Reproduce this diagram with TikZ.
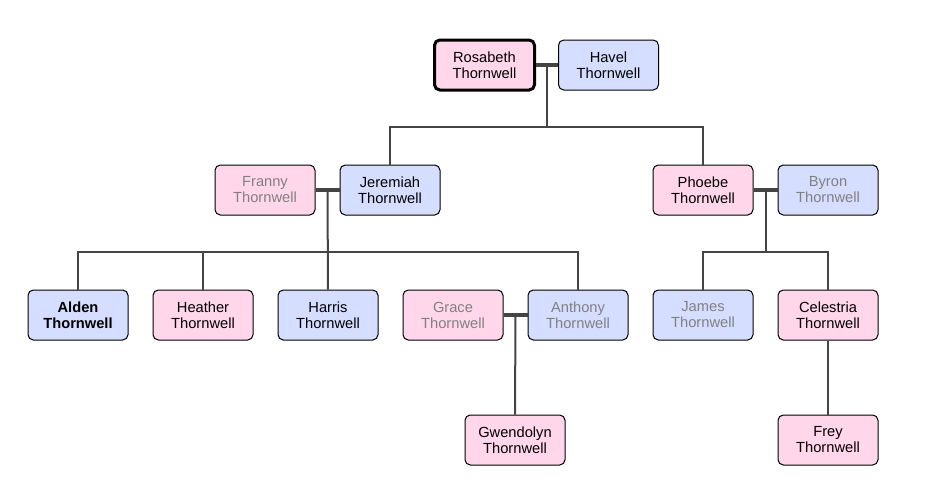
\documentclass[tikz,border=0pt]{standalone}
\usepackage{fontspec}
\setmainfont{Liberation Sans}
\definecolor{femalefill}{RGB}{255,214,234}
\definecolor{malefill}{RGB}{214,222,255}
\definecolor{linkgray}{RGB}{68,68,68}
\definecolor{inlawtext}{RGB}{128,128,128}
\tikzset{
  person/.style={draw=black,line width=0.75pt,rounded corners=4pt,minimum width=75pt,minimum height=37.5pt,inner sep=0pt,align=center,font=\fontsize{11}{12}\selectfont},
  female/.style={person,fill=femalefill},
  male/.style={person,fill=malefill},
  inlaw/.style={text=inlawtext},
  root/.style={line width=2.25pt},
  link/.style={draw=linkgray,line width=1.5pt},
  couple/.style={draw=linkgray,line width=3pt}
}
\begin{document}
\begin{tikzpicture}[x=0.75pt,y=-0.75pt]
        \useasboundingbox (0,0) rectangle (951,490);
        %prima generazione
        \node[female,root] (rosabeth) at (484.5,65) {Rosabeth\\Thornwell};
        \node[male] (havel) at (608.5,65) {Havel\\Thornwell};
        %seconda generazione
        \node[female,inlaw] (franny) at (265,190) {Franny\\Thornwell};
        \node[male] (jeremiah) at (390,190) {Jeremiah\\Thornwell};
        \node[female] (phoebe) at (703,190) {Phoebe\\Thornwell};
        \node[male,inlaw] (byron) at (828,190) {Byron\\Thornwell};
        %terza generazione
        \node[male,font=\fontsize{11}{12}\selectfont\bfseries] (alden) at (78,315) {Alden\\Thornwell};
        \node[female] (heather) at (203,315) {Heather\\Thornwell};
        \node[male] (harris) at (328,315) {Harris\\Thornwell};
        \node[female,inlaw] (grace) at (453,315) {Grace\\Thornwell};
        \node[male,inlaw] (anthony) at (578,315) {Anthony\\Thornwell};
        \node[male,inlaw] (james) at (703,315) {James\\Thornwell};
        \node[female] (celestria) at (828,315) {Celestria\\Thornwell};
        %quarta generazione
        \node[female] (gwendolyn) at (515,440) {Gwendolyn\\Thornwell};
        \node[female] (frey) at (828,440) {Frey\\Thornwell};
        %livelli delle barre
        \coordinate (bus1) at (0,127);
        \coordinate (bus2) at (0,252);
        %coppie
        \draw[couple] (rosabeth.east) -- coordinate[midway] (m1) (havel.west);
        \draw[couple] (franny.east) -- coordinate[midway] (m2) (jeremiah.west);
        \draw[couple] (phoebe.east) -- coordinate[midway] (m3) (byron.west);
        \draw[couple] (grace.east) -- coordinate[midway] (m4) (anthony.west);
        %figli
        \draw[link] (m1) -- (m1 |- bus1);
        \draw[link] (jeremiah.north) |- (m1 |- bus1) -| (phoebe.north);
        \draw[link] (m2) -- (harris.north);
        \draw[link] (alden.north) |- (m2 |- bus2) -| (anthony.north);
        \draw[link] (heather.north) -- (heather.north |- bus2);
        \draw[link] (m3) -- (m3 |- bus2);
        \draw[link] (james.north) |- (m3 |- bus2) -| (celestria.north);
        \draw[link] (m4) -- (gwendolyn.north);
        \draw[link] (celestria.south) -- (frey.north);
\end{tikzpicture}
\end{document}
